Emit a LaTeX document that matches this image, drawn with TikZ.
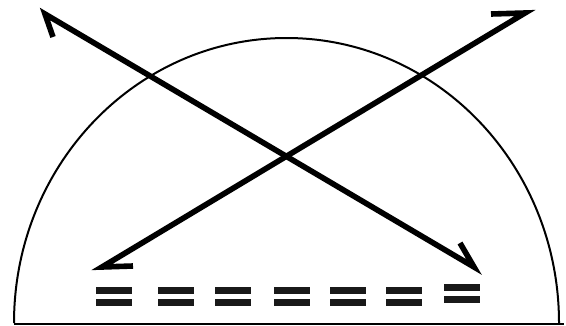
\documentclass[tikz,border=0pt]{standalone}
\usepackage{tikz}

\tikzset{
    dome/.style={line width=1.5pt},
    ray/.style={line width=4.2pt, line join=miter},
    bar/.style={fill=black!90}
}

\begin{document}
\begin{tikzpicture}[x=0.75pt, y=-0.75pt]
    \useasboundingbox (0,0) rectangle (566,325);

    % Dome and ground
    \coordinate (left) at (14,324);
    \coordinate (right) at (564,324);
    \draw[dome] (left) -- (right);
    \draw[dome] (14,323) arc[start angle=180, end angle=360, x radius=272.5, y radius=285];

    % Crossing rays
    \coordinate (aBarbTop) at (53,37);
    \coordinate (aTipTop) at (45,14);
    \coordinate (aTipBot) at (474,267);
    \coordinate (aBarbBot) at (460,243);
    \draw[ray] (aBarbTop) -- (aTipTop) -- (aTipBot) -- (aBarbBot);

    \coordinate (bBarbTop) at (491,14);
    \coordinate (bTipTop) at (525,13);
    \coordinate (bTipBot) at (102,267);
    \coordinate (bBarbBot) at (133,266);
    \draw[ray] (bBarbTop) -- (bTipTop) -- (bTipBot) -- (bBarbBot);

    % Double dashes
    \foreach \x/\dy in {96/0, 158/0, 215/0, 274/0, 330/0, 386/0, 444/-3} {
        \fill[bar] (\x,287+\dy) rectangle (\x+36,294+\dy);
        \fill[bar] (\x,299+\dy) rectangle (\x+36,306+\dy);
    }
\end{tikzpicture}
\end{document}
